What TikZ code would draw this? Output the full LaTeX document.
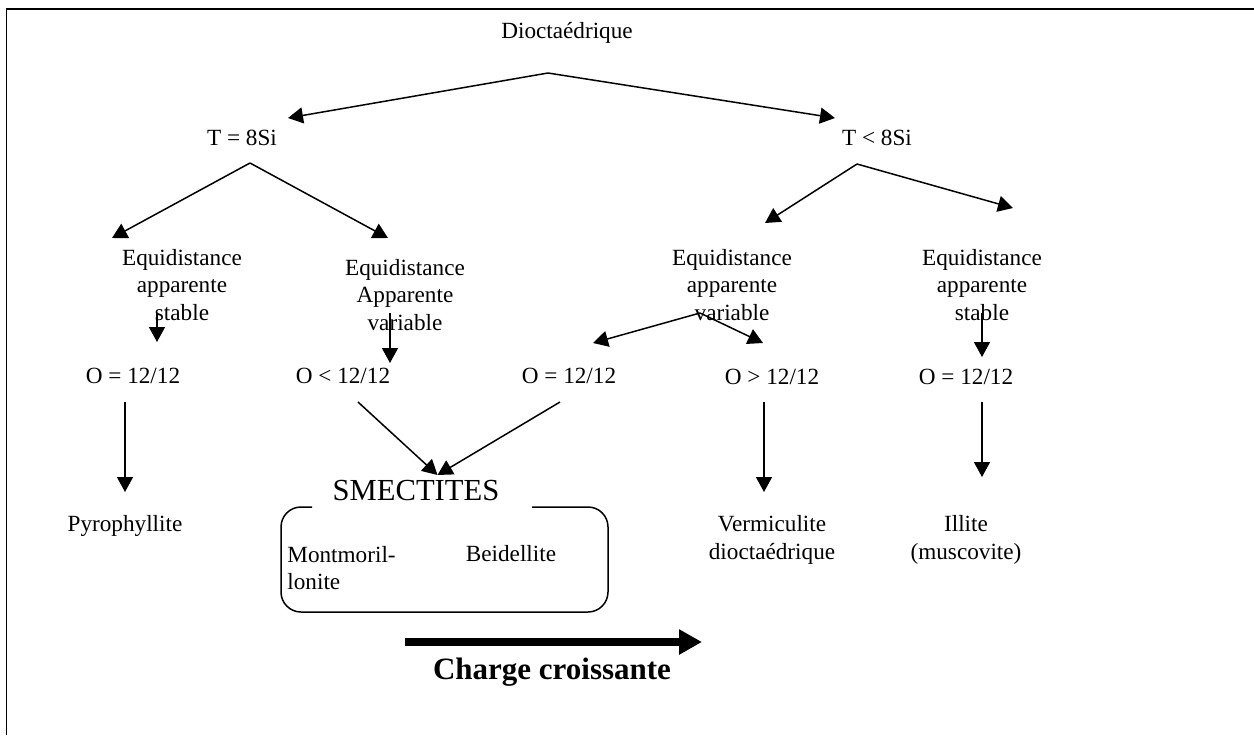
\documentclass[tikz,border=0pt]{standalone}
\usepackage{fontspec}
\setmainfont{Liberation Serif}
\usetikzlibrary{arrows.meta,positioning,calc}

\tikzset{
  lbl/.style={font=\fontsize{11.6}{13.6}\selectfont,align=center,inner sep=0pt},
  arr/.style={line width=0.75pt,-{Triangle[length=7.5pt,width=8pt]}},
}

\begin{document}
\begin{tikzpicture}[x=0.5pt,y=-0.5pt]
\useasboundingbox (0,0) rectangle (1254,735);
\draw[line width=1pt] (6,9) -- (1254,9);
\draw[line width=0.5pt] (6.5,9) -- (6.5,735);

\node[lbl] (dioc) at (567,33) {Dioctaédrique};
\node[lbl] (teq) at (242,138) {T = 8Si};
\node[lbl] (tlt) at (877,138) {T < 8Si};
\node[lbl] (eqs1) at (182,285) {Equidistance\\apparente\\stable};
\node[lbl] (eqv1) at (405,295) {Equidistance\\Apparente\\variable};
\node[lbl] (eqv2) at (732,285) {Equidistance\\apparente\\variable};
\node[lbl] (eqs2) at (982,285) {Equidistance\\apparente\\stable};
\node[lbl] (o1) at (133,376) {O = 12/12};
\node[lbl] (o2) at (343,376) {O < 12/12};
\node[lbl] (o3) at (569,376) {O = 12/12};
\node[lbl] (o4) at (772,377) {O > 12/12};
\node[lbl] (o5) at (966,377) {O = 12/12};
\node[lbl] (pyro) at (125,526) {Pyrophyllite};
\node[lbl,font=\fontsize{15.3}{18}\selectfont] (smec) at (416,491) {SMECTITES};
\node[lbl,align=left,anchor=west] (mont) at (287,568) {Montmoril-\\lonite};
\node[lbl] (beid) at (511,554) {Beidellite};
\node[lbl] (verm) at (772,540) {Vermiculite\\dioctaédrique};
\node[lbl] (illi) at (966,540) {Illite\\(muscovite)};
\node[lbl,font=\fontsize{15.5}{18}\selectfont\bfseries] (charge) at (552,672) {Charge croissante};

% points de depart et d'arrivee des fleches
\coordinate (f0) at (548,73);
\coordinate (f0a) at (288,118);
\coordinate (f0b) at (835,118);
\coordinate (f1) at (250,163);
\coordinate (f1a) at (112,238);
\coordinate (f1b) at (388,238);
\coordinate (f2) at (857,164);
\coordinate (f2a) at (765,223);
\coordinate (f2b) at (1013,208);
\coordinate (f3) at (700,313);
\coordinate (f3a) at (593,343);
\coordinate (f3b) at (763,343);

\draw[arr] (f0) -- (f0a);
\draw[arr] (f0) -- (f0b);
\draw[arr] (f1) -- (f1a);
\draw[arr] (f1) -- (f1b);
\draw[arr] (f2) -- (f2a);
\draw[arr] (f2) -- (f2b);
\draw[arr] (f3) -- (f3a);
\draw[arr] (f3) -- (f3b);

\coordinate (s1) at (157,313);
\coordinate (s1e) at (157,342);
\coordinate (s2) at (390,313);
\coordinate (s2e) at (390,363);
\coordinate (s3) at (982,313);
\coordinate (s3e) at (982,357);
\draw[arr] (s1) -- (s1e);
\draw[arr] (s2) -- (s2e);
\draw[arr] (s3) -- (s3e);

\coordinate (d1) at (125,402);
\coordinate (d1e) at (125,492);
\coordinate (d2) at (358,402);
\coordinate (d3) at (560,402);
\coordinate (sm) at (437.5,475);
\coordinate (d4) at (764,402);
\coordinate (d4e) at (764,492);
\coordinate (d5) at (982,402);
\coordinate (d5e) at (982,477);
\draw[arr] (d1) -- (d1e);
\draw[arr] (d2) -- (sm);
\draw[arr] (d3) -- (sm);
\draw[arr] (d4) -- (d4e);
\draw[arr] (d5) -- (d5e);

% cadre des smectites
\draw[line width=0.75pt,rounded corners=10pt] (312,507) -| (281,612) -| (608,507) -- (532,507);

% charge croissante
\coordinate (c0) at (405,642);
\coordinate (c1) at (702,642);
\draw[line width=4pt,-{Triangle[length=11.5pt,width=12pt]}] (c0) -- (c1);
\end{tikzpicture}
\end{document}
